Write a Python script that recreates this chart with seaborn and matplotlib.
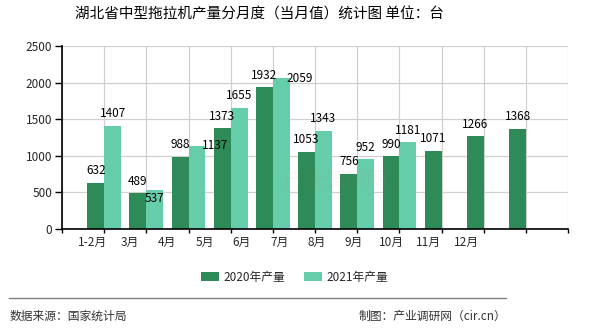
import matplotlib
matplotlib.use("Agg")
import matplotlib.pyplot as plt
from matplotlib.patches import Patch
import numpy as np
import pandas as pd
import seaborn as sns

months = ["1-2月", "3月", "4月", "5月", "6月", "7月", "8月", "9月", "10月", "11月", "12月"]
output_2020 = [632, 489, 988, 1373, 1932, 1053, 756, 990, 1071, 1266, 1368]
output_2021 = [1407, 537, 1137, 1655, 2059, 1343, 952, 1181, np.nan, np.nan, np.nan]
series_names = ["2020年产量", "2021年产量"]
y_ticks = [0, 500, 1000, 1500, 2000, 2500]

title = "湖北省中型拖拉机产量分月度（当月值）统计图 单位：台"
source_text = "数据来源：国家统计局"
credit_text = "制图：产业调研网（cir.cn）"
watermark = "产业调研网"

colors = ["#2e8b57", "#66cdaa"]

sns.set_theme(style="white")
plt.rcParams["font.family"] = ["Noto Sans CJK SC", "DejaVu Sans"]

df = pd.DataFrame({
    "month": months * 2,
    "series": [series_names[0]] * len(months) + [series_names[1]] * len(months),
    "value": output_2020 + output_2021,
})

fig = plt.figure(figsize=(5.9, 3.3), dpi=100)
ax = fig.add_axes([0.105, 0.306, 0.858, 0.555])

sns.barplot(data=df, x="month", y="value", hue="series", palette=colors,
            width=0.8, saturation=1, ax=ax, legend=False, errorbar=None,
            linewidth=0, edgecolor="none")

ax.set_xlim(-1, len(months))
ax.set_ylim(0, 2500)
ax.set_yticks(y_ticks)
ax.set_yticklabels([str(v) for v in y_ticks], fontsize=8.5)
ax.set_xlabel("")
ax.set_ylabel("")

# grid at bar-group centres, ticks at every slot
ax.set_xticks(np.arange(-1, len(months) + 1))
ax.set_xticklabels([])
ax.grid(True, axis="both", color="#d0d0d0", linewidth=0.9)
ax.set_axisbelow(True)
ax.tick_params(axis="x", which="major", direction="out", length=3, color="black", width=1, bottom=True)
ax.tick_params(axis="y", direction="out", length=5, color="black", width=1, left=True, pad=2)

# month labels are spread on their own spacing along the axis
label_pos = -0.28 + np.arange(len(months)) * 0.886
ax.set_xticks(label_pos, minor=True)
ax.set_xticklabels(months, minor=True, fontsize=8.5)
ax.tick_params(axis="x", which="minor", length=0, pad=5)

for side in ["left", "bottom"]:
    ax.spines[side].set_color("black")
    ax.spines[side].set_linewidth(1.2)
for side in ["top", "right"]:
    ax.spines[side].set_visible(False)

# faint site mark across the middle bars
ax.text(0.54, 0.265, watermark, transform=ax.transAxes, ha="center", va="center",
        fontsize=15, color="#e06070", alpha=0.07, zorder=5)

# value labels; a few are nudged to keep clear of their neighbours
nudges = {(1, 1): (0, -6, "center"), (1, 2): (13, 0, "center"), (1, 4): (13, 0, "center")}
for s_idx, cont in enumerate(ax.containers):
    for m_idx, bar in enumerate(cont):
        h = bar.get_height()
        if np.isnan(h):
            continue
        cx = bar.get_x() + bar.get_width() / 2
        dx, dy, va = nudges.get((s_idx, m_idx), (0, 4, "bottom"))
        ax.annotate(f"{int(h)}", (cx, h), xytext=(dx, dy), textcoords="offset points",
                    ha="center", va=va, fontsize=8.5, color="black", zorder=6)

fig.text(0.44, 0.955, title, ha="center", va="center", fontsize=10.5, color="black")

handles = [Patch(facecolor=c, edgecolor="none") for c in colors]
fig.legend(handles, series_names, loc="center", bbox_to_anchor=(0.5, 0.16), ncol=2,
           frameon=False, fontsize=8.5, handlelength=1.5, handleheight=0.7,
           handletextpad=0.4, columnspacing=1.6)

fig.add_artist(plt.Line2D([0.015, 0.858], [0.097, 0.097], color="#808080", linewidth=1))
fig.text(0.017, 0.042, source_text, ha="left", va="center", fontsize=8.5, color="#333333")
fig.text(0.858, 0.042, credit_text, ha="right", va="center", fontsize=8.5, color="#333333")

fig.savefig("out.png", dpi=100)
